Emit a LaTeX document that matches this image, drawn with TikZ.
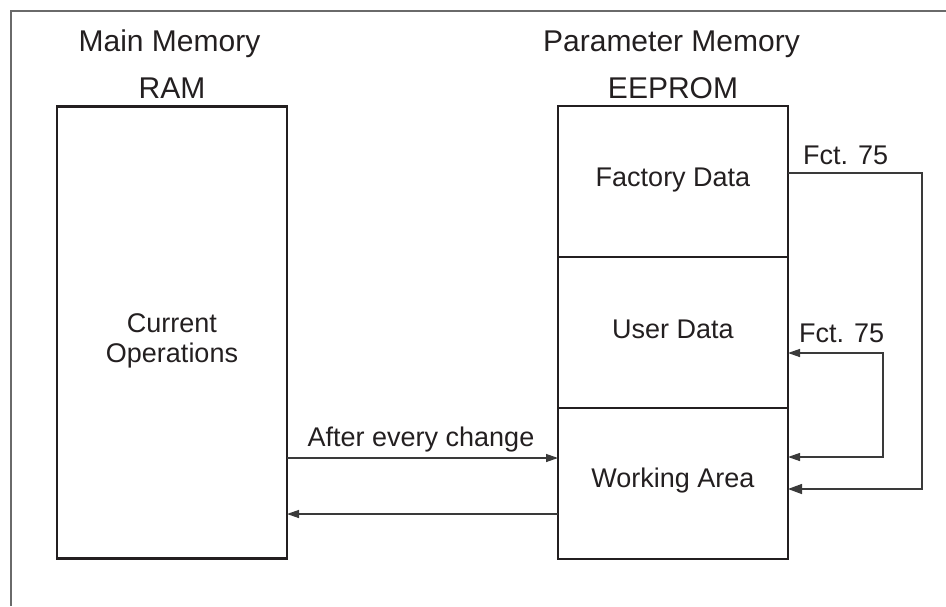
\documentclass[tikz,border=0pt]{standalone}
\usepackage{fontspec}
\setmainfont{Liberation Sans}
\usetikzlibrary{arrows.meta}
\definecolor{ink}{HTML}{231F20}
\definecolor{linec}{HTML}{3A3A3A}
\definecolor{framec}{HTML}{6A6A6A}
\begin{document}
\begin{tikzpicture}[x=1pt,y=-1pt,
  memframe/.style={draw=framec, line width=2pt},
  membox/.style={draw=ink, line width=2.5pt, minimum width=230pt, inner sep=0pt, outer sep=0pt},
  title/.style={text=ink, font=\fontsize{30}{34}\selectfont, inner sep=0pt, anchor=base},
  label/.style={text=ink, font=\fontsize{27}{30}\selectfont, inner sep=0pt, anchor=base},
  arr/.style={draw=linec, line width=1.3pt, -{Triangle[length=12pt,width=8pt]}},
  biarr/.style={draw=linec, line width=1.3pt, {Triangle[length=12pt,width=8pt]}-{Triangle[length=12pt,width=8pt]}},
  bigarr/.style={draw=linec, line width=1.3pt, -{Triangle[length=14pt,width=10pt]}}
]
\useasboundingbox (0,0) rectangle (946,606);
\draw[memframe] (11,606) -- (11,11) -- (946,11);

% boxes
\node[membox, minimum height=452pt] (ram) at (172,332.5) {};
\node[membox, minimum height=151pt] (fac) at (673,181.5) {};
\node[membox, minimum height=151pt] (user) at (673,332.5) {};
\node[membox, minimum height=151pt] (work) at (673,483.5) {};

% titles
\node[title] (tmain) at (169.5,51) {Main Memory};
\node[title] (tram) at (172,98) {RAM};
\node[title] (tparam) at (671.5,51) {Parameter Memory};
\node[title] (teep) at (673,98) {EEPROM};

% box texts
\node[text=ink, font=\fontsize{27}{30}\selectfont, inner sep=0pt, align=center] (tcur) at (172,341) {Current\\Operations};
\node[label] (tfac) at (673,186) {Factory Data};
\node[label] (tuser) at (673,338) {User Data};
\node[label] (twork) at (673,487) {Working Area};

% connectors
\draw[arr] (ram.east |- 0,458) -- (work.west |- 0,458);
\node[label] (tafter) at (421,446) {After every change};
\draw[arr] (work.west |- 0,514) -- (ram.east |- 0,514);

\draw[bigarr] (fac.east |- 0,173) -- (922,173) -- (922,489) -- (work.east |- 0,489);
\node[label, anchor=base west] (tf1) at (803,164) {Fct. 75};

\draw[biarr] (user.east |- 0,353) -- (883,353) -- (883,457) -- (work.east |- 0,457);
\node[label, anchor=base west] (tf2) at (799,342) {Fct. 75};
\end{tikzpicture}
\end{document}
